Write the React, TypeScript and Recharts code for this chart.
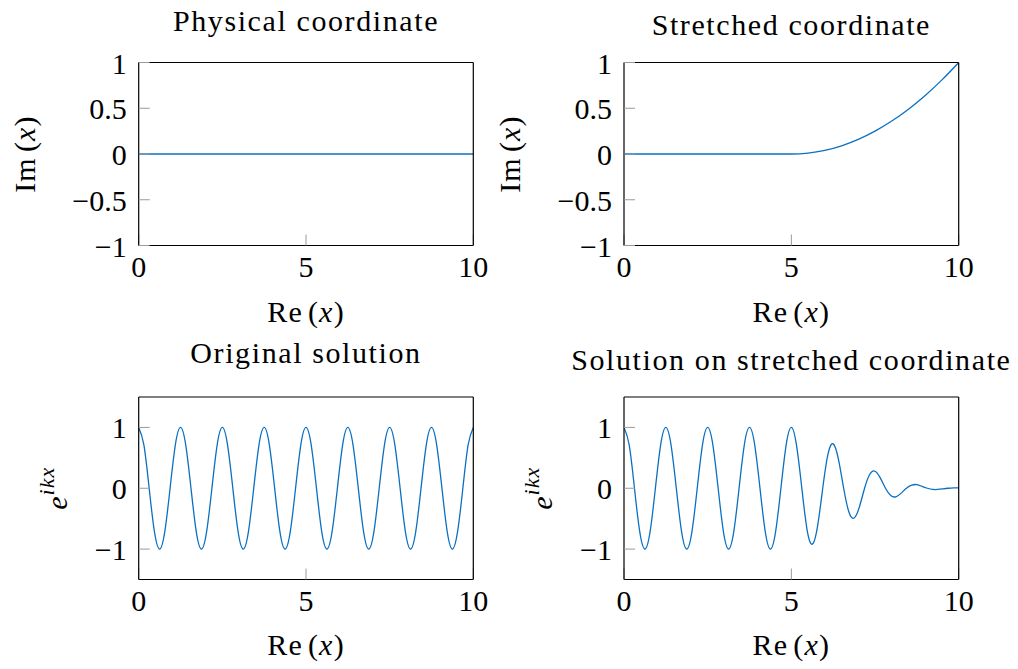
import React from 'react';
import { LineChart, Line, XAxis, YAxis, Label } from 'recharts';

// ---- data ----
const xTicks = [0, 5, 10];
const imTicks = [-1, -0.5, 0, 0.5, 1];
const waveTicks = [-1, 0, 1];

const physX = [0, 10];
const physIm = [0, 0];

const stretchX = [0, 5, 5.5, 6, 6.5, 7, 7.5, 8, 8.5, 9, 9.5, 10];
const stretchIm = [0, 0, 0.01, 0.04, 0.09, 0.16, 0.25, 0.36, 0.49, 0.64, 0.81, 1];

const waveX = [
  0, 0.156, 0.313, 0.469, 0.625, 0.781, 0.938, 1.094,
  1.25, 1.406, 1.563, 1.719, 1.875, 2.031, 2.188, 2.344,
  2.5, 2.656, 2.813, 2.969, 3.125, 3.281, 3.438, 3.594,
  3.75, 3.906, 4.063, 4.219, 4.375, 4.531, 4.688, 4.844,
  5, 5.156, 5.313, 5.469, 5.625, 5.781, 5.938, 6.094,
  6.25, 6.406, 6.563, 6.719, 6.875, 7.031, 7.188, 7.344,
  7.5, 7.656, 7.813, 7.969, 8.125, 8.281, 8.438, 8.594,
  8.75, 8.906, 9.063, 9.219, 9.375, 9.531, 9.688, 9.844,
  10,
];
const origY = [
  1, 0.71, 0, -0.71, -1, -0.71, 0, 0.71,
  1, 0.71, 0, -0.71, -1, -0.71, 0, 0.71,
  1, 0.71, 0, -0.71, -1, -0.71, 0, 0.71,
  1, 0.71, 0, -0.71, -1, -0.71, 0, 0.71,
  1, 0.71, 0, -0.71, -1, -0.71, 0, 0.71,
  1, 0.71, 0, -0.71, -1, -0.71, 0, 0.71,
  1, 0.71, 0, -0.71, -1, -0.71, 0, 0.71,
  1, 0.71, 0, -0.71, -1, -0.71, 0, 0.71,
  1,
];
const dampY = [
  1, 0.71, 0, -0.71, -1, -0.71, 0, 0.71,
  1, 0.71, 0, -0.71, -1, -0.71, 0, 0.71,
  1, 0.71, 0, -0.71, -1, -0.71, 0, 0.71,
  1, 0.71, 0, -0.71, -1, -0.71, 0, 0.71,
  1, 0.7, 0, -0.68, -0.92, -0.63, 0, 0.56,
  0.73, 0.48, 0, -0.39, -0.49, -0.31, 0, 0.23,
  0.28, 0.17, 0, -0.12, -0.14, -0.08, 0, 0.05,
  0.06, 0.03, 0, -0.02, -0.02, -0.01, 0, 0.006,
  0.007,
];

const zip = (xs: number[], ys: number[]) => xs.map((x, i) => ({ x, y: ys[i] }));

// ---- style ----
const FONT = '"Liberation Serif", "DejaVu Serif", serif';
const FS = 30;
const LINE = '#0a70c2';
const TICK = '#9a9a9a';
const TICKLEN = 11;
const txt = { fontFamily: FONT, fontSize: FS, fill: '#000' } as React.CSSProperties;

const fmt = (v: number) => (v < 0 ? '\u2212' + String(Math.abs(v)) : String(v));

const BottomTick = (p: any) => (
  <text x={p.x} y={p.y + 21} textAnchor="middle" style={txt}>
    {fmt(p.payload.value)}
  </text>
);
const LeftTick = (p: any) => (
  <text x={p.x} y={p.y + 11} textAnchor="end" style={txt}>
    {fmt(p.payload.value)}
  </text>
);

type PanelProps = {
  left: number;
  top: number;
  width: number;
  height: number;
  plot: { x0: number; x1: number; y0: number; y1: number };
  data: { x: number; y: number }[];
  yDomain: [number, number];
  yTicks: number[];
  curve: 'natural' | 'monotone' | 'linear';
  title: string;
  titleY: number;
  xLabelY: number;
  yLabel: 'im' | 'exp';
  yLabelX: number;
};

const AXW_L = 60;
const AXW_R = 8;
const AXH_T = 20;
const AXH_B = 40;

function Panel(props: PanelProps) {
  const { left, top, width, height, plot, data, yDomain, yTicks, curve, title, titleY, xLabelY, yLabel, yLabelX } = props;
  const lx0 = plot.x0 - left;
  const lx1 = plot.x1 - left;
  const ly0 = plot.y0 - top;
  const ly1 = plot.y1 - top;
  const cx = (lx0 + lx1) / 2;
  const cy = (ly0 + ly1) / 2;
  const margin = {
    left: lx0 - AXW_L,
    right: width - lx1 - AXW_R,
    top: ly0 - AXH_T,
    bottom: height - ly1 - AXH_B,
  };
  const titleEl = () => (
    <text x={cx} y={titleY - top} textAnchor="middle" style={{ ...txt, letterSpacing: 1.6 }}>
      {title}
    </text>
  );
  const xLabelEl = () => (
    <text x={cx} y={xLabelY - top} textAnchor="middle" style={{ ...txt, letterSpacing: 1.2 }}>
      Re<tspan dx={5}>(</tspan>
      <tspan style={{ fontStyle: 'italic' }}>x</tspan>)
    </text>
  );
  const ylx = yLabelX - left;
  const yLabelEl = () =>
    yLabel === 'im' ? (
      <text
        x={ylx}
        y={cy}
        transform={`rotate(-90, ${ylx}, ${cy})`}
        textAnchor="middle"
        style={{ ...txt, letterSpacing: 1.2 }}
      >
        Im<tspan dx={5}>(</tspan>
        <tspan style={{ fontStyle: 'italic' }}>x</tspan>)
      </text>
    ) : (
      <text x={ylx} y={cy} transform={`rotate(-90, ${ylx}, ${cy})`} textAnchor="middle" style={txt}>
        <tspan style={{ fontStyle: 'italic', fontSize: FS }}>e</tspan>
        <tspan style={{ fontStyle: 'italic', fontSize: 22, letterSpacing: 1 }} dy={-13} dx={1}>
          ikx
        </tspan>
      </text>
    );

  return (
    <div style={{ position: 'absolute', left, top, width, height }}>
      <LineChart width={width} height={height} data={data} margin={margin}>
        <XAxis
          dataKey="x"
          type="number"
          domain={[0, 10]}
          ticks={xTicks}
          allowDataOverflow
          height={AXH_B}
          axisLine={{ stroke: '#000', strokeWidth: 1.2 }}
          tickLine={{ stroke: TICK, strokeWidth: 1 }}
          tickSize={-TICKLEN}
          tickMargin={TICKLEN + 10}
          tick={BottomTick}
          interval={0}
        >
          <Label content={xLabelEl} />
        </XAxis>
        <XAxis
          xAxisId="top"
          orientation="top"
          dataKey="x"
          type="number"
          domain={[0, 10]}
          ticks={xTicks}
          allowDataOverflow
          height={AXH_T}
          axisLine={{ stroke: '#000', strokeWidth: 1.2 }}
          tickLine={{ stroke: TICK, strokeWidth: 1 }}
          tickSize={-TICKLEN}
          tick={false}
          interval={0}
        >
          <Label content={titleEl} />
        </XAxis>
        <YAxis
          type="number"
          domain={yDomain}
          ticks={yTicks}
          allowDataOverflow
          width={AXW_L}
          axisLine={{ stroke: '#000', strokeWidth: 1.2 }}
          tickLine={{ stroke: TICK, strokeWidth: 1 }}
          tickSize={-TICKLEN}
          tickMargin={TICKLEN + 12}
          tick={LeftTick}
          interval={0}
        >
          <Label content={yLabelEl} />
        </YAxis>
        <YAxis
          yAxisId="right"
          orientation="right"
          type="number"
          domain={yDomain}
          ticks={yTicks}
          allowDataOverflow
          width={AXW_R}
          axisLine={{ stroke: '#000', strokeWidth: 1.2 }}
          tickLine={{ stroke: TICK, strokeWidth: 1 }}
          tickSize={-TICKLEN}
          tick={false}
          interval={0}
        />
        <Line
          dataKey="y"
          type={curve}
          stroke={LINE}
          strokeWidth={1.3}
          dot={false}
          activeDot={false}
          isAnimationActive={false}
        />
      </LineChart>
    </div>
  );
}

export default function App() {
  const topPlotY = { y0: 62.5, y1: 245.5 };
  const botPlotY = { y0: 397, y1: 579.5 };
  const leftX = { x0: 138.7, x1: 473.3 };
  const rightX = { x0: 624, x1: 958.7 };
  return (
    <div style={{ position: 'absolute', left: 0, top: 0, width: 1018, height: 669, background: '#fff', overflow: 'hidden' }}>
      <Panel
        left={0}
        top={0}
        width={492}
        height={334}
        plot={{ ...leftX, ...topPlotY }}
        data={zip(physX, physIm)}
        yDomain={[-1, 1]}
        yTicks={imTicks}
        curve="linear"
        title="Physical coordinate"
        titleY={30.7}
        xLabelY={322}
        yLabel="im"
        yLabelX={35}
      />
      <Panel
        left={492}
        top={0}
        width={526}
        height={334}
        plot={{ ...rightX, ...topPlotY }}
        data={zip(stretchX, stretchIm)}
        yDomain={[-1, 1]}
        yTicks={imTicks}
        curve="monotone"
        title="Stretched coordinate"
        titleY={35}
        xLabelY={322}
        yLabel="im"
        yLabelX={520.3}
      />
      <Panel
        left={0}
        top={334}
        width={492}
        height={335}
        plot={{ ...leftX, ...botPlotY }}
        data={zip(waveX, origY)}
        yDomain={[-1.5, 1.5]}
        yTicks={waveTicks}
        curve="natural"
        title="Original solution"
        titleY={363.3}
        xLabelY={655}
        yLabel="exp"
        yLabelX={67}
      />
      <Panel
        left={492}
        top={334}
        width={526}
        height={335}
        plot={{ ...rightX, ...botPlotY }}
        data={zip(waveX, dampY)}
        yDomain={[-1.5, 1.5]}
        yTicks={waveTicks}
        curve="natural"
        title="Solution on stretched coordinate"
        titleY={370}
        xLabelY={655}
        yLabel="exp"
        yLabelX={552.3}
      />
    </div>
  );
}
